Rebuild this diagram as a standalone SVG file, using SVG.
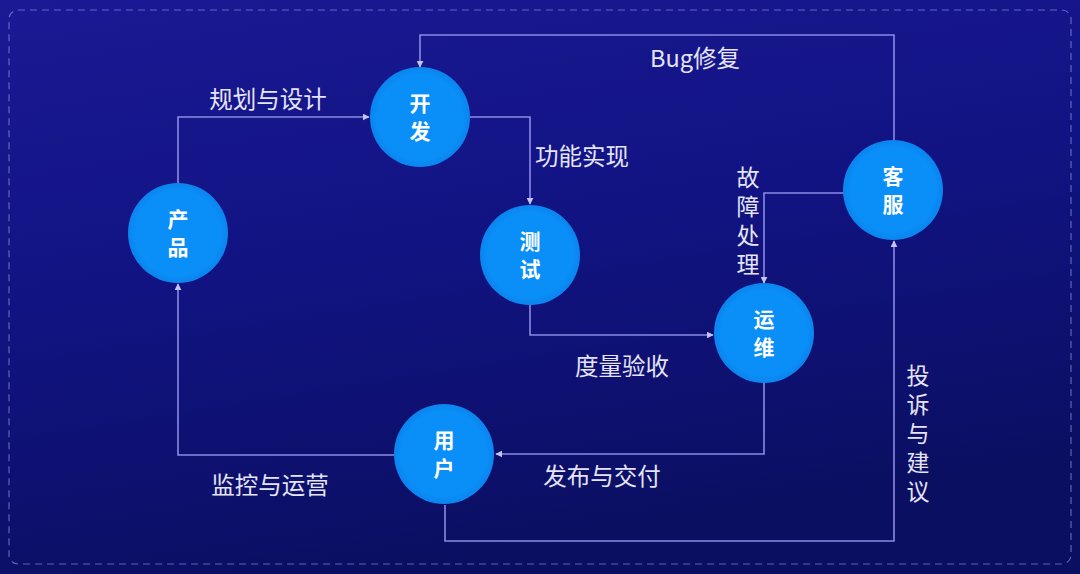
<svg xmlns="http://www.w3.org/2000/svg" width="1080" height="574" viewBox="0 0 1080 574">
<defs>
<linearGradient id="bg" x1="0" y1="0" x2="0.3" y2="1">
<stop offset="0" stop-color="#1b1994"/>
<stop offset="0.5" stop-color="#111382"/>
<stop offset="1" stop-color="#0b0f62"/>
</linearGradient>
<radialGradient id="node" cx="0.5" cy="0.5" r="0.5">
<stop offset="0.85" stop-color="#0a8ef7"/>
<stop offset="1" stop-color="#0b84ee"/>
</radialGradient>
<marker id="arr" viewBox="0 0 10 10" refX="9" refY="5" markerWidth="7" markerHeight="7" orient="auto" markerUnits="userSpaceOnUse">
<path d="M0,0 L10,5 L0,10 z" fill="#c4c4f4"/>
</marker>
<style>
.conn{fill:none;stroke:#8a8ae6;stroke-width:1.6;}
.node circle{fill:url(#node);}
.nt{fill:#ffffff;font-family:"Noto Sans CJK SC","Noto Sans",sans-serif;font-size:21px;font-weight:bold;text-anchor:middle;}
.lbl{fill:#e4e4f6;font-family:"Noto Sans CJK SC","Liberation Sans",sans-serif;font-size:23.5px;text-anchor:middle;}
.vl{fill:#e4e4f6;font-family:"Noto Sans CJK SC",sans-serif;font-size:23px;writing-mode:vertical-rl;letter-spacing:6px;}
</style>
</defs>
<rect x="0" y="0" width="1080" height="574" fill="url(#bg)"/>
<rect x="9" y="10" width="1062" height="554" rx="9" fill="none" stroke="#9a9ae8" stroke-opacity="0.6" stroke-width="1.2" stroke-dasharray="7 5"/>

<g id="connectors">
<path class="conn" d="M178,183 V117 H369" marker-end="url(#arr)"/>
<path class="conn" d="M470,117 H530 V204" marker-end="url(#arr)"/>
<path class="conn" d="M530,305 V335 H713" marker-end="url(#arr)"/>
<path class="conn" d="M844,193 H764 V283" marker-end="url(#arr)"/>
<path class="conn" d="M894,140 V35 H420 V67" marker-end="url(#arr)"/>
<path class="conn" d="M764,383 V454 H496" marker-end="url(#arr)"/>
<path class="conn" d="M394,455 H178 V284" marker-end="url(#arr)"/>
<path class="conn" d="M445,505 V541 H894 V241" marker-end="url(#arr)"/>
</g>

<g id="labels">
<text class="lbl" x="268" y="108">规划与设计</text>
<text class="lbl" x="582" y="165">功能实现</text>
<text class="lbl" x="622" y="375">度量验收</text>
<text class="lbl" x="695" y="67">Bug修复</text>
<text class="lbl" x="602" y="485">发布与交付</text>
<text class="lbl" x="270" y="494">监控与运营</text>
<text class="vl" x="748" y="166">故障处理</text>
<text class="vl" x="918" y="364">投诉与建议</text>
</g>

<g id="node-kaifa" class="node"><circle cx="420" cy="117" r="50"/><text class="nt" x="420" y="111">开</text><text class="nt" x="420" y="139">发</text></g>
<g id="node-chanpin" class="node"><circle cx="178" cy="233" r="50"/><text class="nt" x="178" y="227">产</text><text class="nt" x="178" y="255">品</text></g>
<g id="node-ceshi" class="node"><circle cx="530" cy="255" r="50"/><text class="nt" x="530" y="249">测</text><text class="nt" x="530" y="277">试</text></g>
<g id="node-yunwei" class="node"><circle cx="764" cy="333" r="50"/><text class="nt" x="764" y="327">运</text><text class="nt" x="764" y="355">维</text></g>
<g id="node-kefu" class="node"><circle cx="893" cy="190" r="50"/><text class="nt" x="893" y="184">客</text><text class="nt" x="893" y="212">服</text></g>
<g id="node-yonghu" class="node"><circle cx="444" cy="454" r="50"/><text class="nt" x="444" y="448">用</text><text class="nt" x="444" y="476">户</text></g>
</svg>
